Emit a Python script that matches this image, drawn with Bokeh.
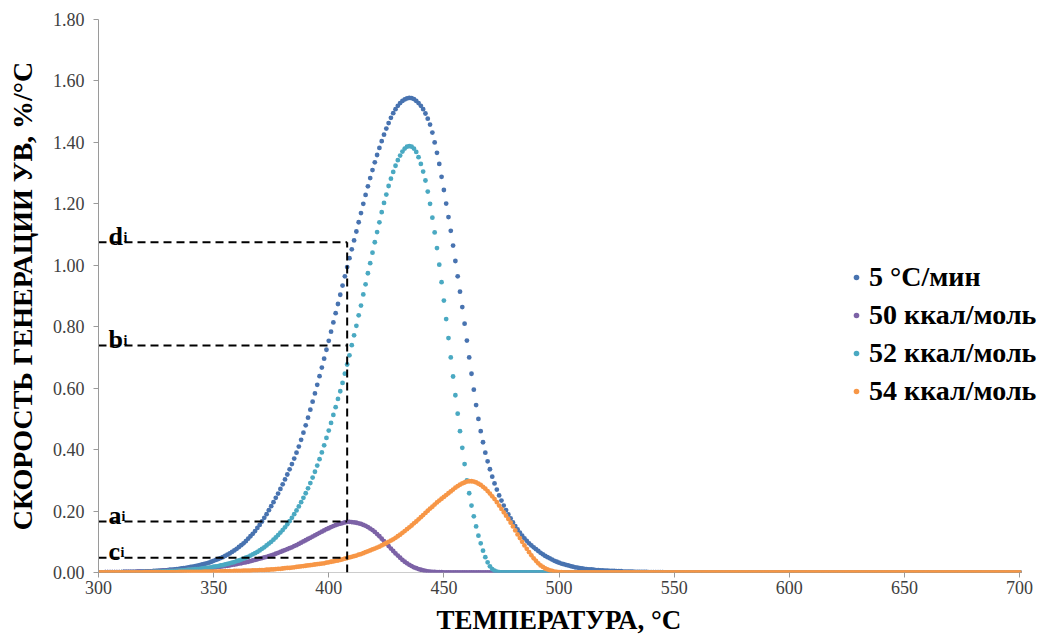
from bokeh.plotting import figure
from bokeh.models import Range1d, FixedTicker, PrintfTickFormatter, Legend, LegendItem, Label
from bokeh.embed import file_html
from bokeh.resources import INLINE

# ---------------- data ----------------
temps = list(range(300, 701))

rate_5c = [
    0, 0, 0, 0.001, 0.001, 0.001, 0.001, 0.001, 0.001, 0.001,  # 300
    0.001, 0.002, 0.002, 0.002, 0.002, 0.002, 0.002, 0.003, 0.003, 0.003,  # 310
    0.003, 0.004, 0.004, 0.004, 0.005, 0.005, 0.006, 0.006, 0.007, 0.007,  # 320
    0.008, 0.009, 0.009, 0.010, 0.011, 0.012, 0.013, 0.014, 0.015, 0.017,  # 330
    0.018, 0.019, 0.021, 0.022, 0.024, 0.026, 0.028, 0.030, 0.032, 0.035,  # 340
    0.038, 0.041, 0.044, 0.047, 0.050, 0.054, 0.058, 0.062, 0.067, 0.072,  # 350
    0.077, 0.083, 0.089, 0.095, 0.102, 0.110, 0.118, 0.126, 0.135, 0.145,  # 360
    0.155, 0.166, 0.178, 0.190, 0.203, 0.216, 0.229, 0.243, 0.257, 0.272,  # 370
    0.287, 0.303, 0.319, 0.336, 0.353, 0.371, 0.390, 0.410, 0.432, 0.455,  # 380
    0.479, 0.504, 0.530, 0.556, 0.583, 0.611, 0.639, 0.667, 0.696, 0.725,  # 390
    0.754, 0.784, 0.814, 0.844, 0.874, 0.904, 0.934, 0.964, 0.994, 1.023,  # 400
    1.052, 1.081, 1.110, 1.140, 1.170, 1.200, 1.229, 1.257, 1.284, 1.310,  # 410
    1.335, 1.359, 1.382, 1.404, 1.425, 1.445, 1.463, 1.480, 1.495, 1.508,  # 420
    1.519, 1.528, 1.535, 1.540, 1.543, 1.545, 1.544, 1.541, 1.535, 1.528,  # 430
    1.519, 1.508, 1.494, 1.477, 1.458, 1.432, 1.400, 1.366, 1.330, 1.288,  # 440
    1.245, 1.201, 1.157, 1.112, 1.064, 1.014, 0.964, 0.914, 0.864, 0.810,  # 450
    0.755, 0.700, 0.647, 0.595, 0.545, 0.500, 0.460, 0.424, 0.390, 0.362,  # 460
    0.336, 0.312, 0.290, 0.270, 0.251, 0.234, 0.218, 0.203, 0.189, 0.176,  # 470
    0.163, 0.151, 0.140, 0.130, 0.120, 0.111, 0.103, 0.095, 0.088, 0.082,  # 480
    0.076, 0.070, 0.064, 0.059, 0.054, 0.050, 0.046, 0.042, 0.038, 0.035,  # 490
    0.032, 0.029, 0.027, 0.025, 0.023, 0.021, 0.019, 0.017, 0.016, 0.014,  # 500
    0.013, 0.012, 0.011, 0.010, 0.010, 0.009, 0.008, 0.008, 0.007, 0.007,  # 510
    0.006, 0.006, 0.005, 0.005, 0.005, 0.004, 0.004, 0.004, 0.003, 0.003,  # 520
    0.003, 0.003, 0.003, 0.002, 0.002, 0.002, 0.002, 0.002, 0.002, 0.001,  # 530
    0.001, 0.001, 0.001, 0.001, 0.001, 0.001, 0, 0, 0, 0,  # 540
    0, 0, 0, 0, 0, 0, 0, 0, 0, 0,  # 550
    0, 0, 0, 0, 0, 0, 0, 0, 0, 0,  # 560
    0, 0, 0, 0, 0, 0, 0, 0, 0, 0,  # 570
    0, 0, 0, 0, 0, 0, 0, 0, 0, 0,  # 580
    0, 0, 0, 0, 0, 0, 0, 0, 0, 0,  # 590
    0, 0, 0, 0, 0, 0, 0, 0, 0, 0,  # 600
    0, 0, 0, 0, 0, 0, 0, 0, 0, 0,  # 610
    0, 0, 0, 0, 0, 0, 0, 0, 0, 0,  # 620
    0, 0, 0, 0, 0, 0, 0, 0, 0, 0,  # 630
    0, 0, 0, 0, 0, 0, 0, 0, 0, 0,  # 640
    0, 0, 0, 0, 0, 0, 0, 0, 0, 0,  # 650
    0, 0, 0, 0, 0, 0, 0, 0, 0, 0,  # 660
    0, 0, 0, 0, 0, 0, 0, 0, 0, 0,  # 670
    0, 0, 0, 0, 0, 0, 0, 0, 0, 0,  # 680
    0, 0, 0, 0, 0, 0, 0, 0, 0, 0,  # 690
    0,  # 700
]

rate_50 = [
    0, 0, 0, 0.001, 0.001, 0.001, 0.001, 0.001, 0.001, 0.001,  # 300
    0.001, 0.002, 0.002, 0.002, 0.002, 0.002, 0.002, 0.003, 0.003, 0.003,  # 310
    0.003, 0.003, 0.003, 0.004, 0.004, 0.004, 0.004, 0.005, 0.005, 0.005,  # 320
    0.005, 0.006, 0.006, 0.006, 0.007, 0.007, 0.007, 0.008, 0.008, 0.009,  # 330
    0.009, 0.010, 0.010, 0.011, 0.011, 0.012, 0.013, 0.013, 0.014, 0.015,  # 340
    0.016, 0.017, 0.018, 0.019, 0.020, 0.021, 0.022, 0.023, 0.025, 0.026,  # 350
    0.027, 0.029, 0.030, 0.032, 0.033, 0.035, 0.037, 0.039, 0.041, 0.043,  # 360
    0.045, 0.047, 0.049, 0.051, 0.053, 0.056, 0.058, 0.061, 0.064, 0.067,  # 370
    0.070, 0.073, 0.076, 0.079, 0.082, 0.086, 0.089, 0.093, 0.097, 0.101,  # 380
    0.105, 0.109, 0.113, 0.117, 0.121, 0.125, 0.129, 0.133, 0.137, 0.141,  # 390
    0.144, 0.148, 0.151, 0.154, 0.157, 0.159, 0.161, 0.163, 0.165, 0.165,  # 400
    0.164, 0.163, 0.162, 0.160, 0.158, 0.155, 0.152, 0.148, 0.143, 0.138,  # 410
    0.132, 0.125, 0.118, 0.110, 0.102, 0.094, 0.086, 0.078, 0.070, 0.062,  # 420
    0.055, 0.048, 0.041, 0.035, 0.030, 0.025, 0.021, 0.017, 0.014, 0.011,  # 430
    0.009, 0.007, 0.005, 0.004, 0.003, 0.002, 0.002, 0.001, 0.001, 0.001,  # 440
    0, 0, 0, 0, 0, 0, 0, 0, 0, 0,  # 450
    0, 0, 0, 0, 0, 0, 0, 0, 0, 0,  # 460
    0, 0, 0, 0, 0, 0, 0, 0, 0, 0,  # 470
    0, 0, 0, 0, 0, 0, 0, 0, 0, 0,  # 480
    0, 0, 0, 0, 0, 0, 0, 0, 0, 0,  # 490
    0, 0, 0, 0, 0, 0, 0, 0, 0, 0,  # 500
    0, 0, 0, 0, 0, 0, 0, 0, 0, 0,  # 510
    0, 0, 0, 0, 0, 0, 0, 0, 0, 0,  # 520
    0, 0, 0, 0, 0, 0, 0, 0, 0, 0,  # 530
    0, 0, 0, 0, 0, 0, 0, 0, 0, 0,  # 540
    0, 0, 0, 0, 0, 0, 0, 0, 0, 0,  # 550
    0, 0, 0, 0, 0, 0, 0, 0, 0, 0,  # 560
    0, 0, 0, 0, 0, 0, 0, 0, 0, 0,  # 570
    0, 0, 0, 0, 0, 0, 0, 0, 0, 0,  # 580
    0, 0, 0, 0, 0, 0, 0, 0, 0, 0,  # 590
    0, 0, 0, 0, 0, 0, 0, 0, 0, 0,  # 600
    0, 0, 0, 0, 0, 0, 0, 0, 0, 0,  # 610
    0, 0, 0, 0, 0, 0, 0, 0, 0, 0,  # 620
    0, 0, 0, 0, 0, 0, 0, 0, 0, 0,  # 630
    0, 0, 0, 0, 0, 0, 0, 0, 0, 0,  # 640
    0, 0, 0, 0, 0, 0, 0, 0, 0, 0,  # 650
    0, 0, 0, 0, 0, 0, 0, 0, 0, 0,  # 660
    0, 0, 0, 0, 0, 0, 0, 0, 0, 0,  # 670
    0, 0, 0, 0, 0, 0, 0, 0, 0, 0,  # 680
    0, 0, 0, 0, 0, 0, 0, 0, 0, 0,  # 690
    0,  # 700
]

rate_52 = [
    0, 0, 0, 0, 0, 0, 0, 0, 0, 0,  # 300
    0.001, 0.001, 0.001, 0.001, 0.001, 0.001, 0.001, 0.001, 0.001, 0.002,  # 310
    0.002, 0.002, 0.002, 0.002, 0.003, 0.003, 0.003, 0.003, 0.004, 0.004,  # 320
    0.004, 0.005, 0.005, 0.005, 0.006, 0.006, 0.007, 0.007, 0.008, 0.009,  # 330
    0.009, 0.010, 0.011, 0.011, 0.012, 0.013, 0.014, 0.015, 0.016, 0.017,  # 340
    0.019, 0.020, 0.021, 0.023, 0.024, 0.026, 0.028, 0.030, 0.032, 0.034,  # 350
    0.037, 0.039, 0.042, 0.045, 0.048, 0.051, 0.055, 0.059, 0.063, 0.067,  # 360
    0.072, 0.077, 0.082, 0.088, 0.094, 0.100, 0.107, 0.114, 0.122, 0.130,  # 370
    0.138, 0.147, 0.157, 0.167, 0.178, 0.190, 0.202, 0.215, 0.229, 0.243,  # 380
    0.258, 0.274, 0.291, 0.309, 0.328, 0.348, 0.369, 0.391, 0.414, 0.438,  # 390
    0.462, 0.487, 0.513, 0.538, 0.565, 0.590, 0.617, 0.647, 0.677, 0.707,  # 400
    0.740, 0.772, 0.803, 0.837, 0.869, 0.905, 0.938, 0.974, 1.007, 1.041,  # 410
    1.075, 1.108, 1.140, 1.173, 1.203, 1.230, 1.258, 1.282, 1.304, 1.324,  # 420
    1.342, 1.357, 1.370, 1.380, 1.386, 1.388, 1.386, 1.380, 1.369, 1.352,  # 430
    1.330, 1.305, 1.276, 1.240, 1.200, 1.155, 1.107, 1.056, 1.002, 0.945,  # 440
    0.885, 0.825, 0.763, 0.700, 0.638, 0.577, 0.517, 0.460, 0.406, 0.353,  # 450
    0.300, 0.258, 0.218, 0.183, 0.150, 0.120, 0.095, 0.071, 0.050, 0.033,  # 460
    0.020, 0.011, 0.006, 0.003, 0.001, 0, 0, 0, 0, 0,  # 470
    0, 0, 0, 0, 0, 0, 0, 0, 0, 0,  # 480
    0, 0, 0, 0, 0, 0, 0, 0, 0, 0,  # 490
    0, 0, 0, 0, 0, 0, 0, 0, 0, 0,  # 500
    0, 0, 0, 0, 0, 0, 0, 0, 0, 0,  # 510
    0, 0, 0, 0, 0, 0, 0, 0, 0, 0,  # 520
    0, 0, 0, 0, 0, 0, 0, 0, 0, 0,  # 530
    0, 0, 0, 0, 0, 0, 0, 0, 0, 0,  # 540
    0, 0, 0, 0, 0, 0, 0, 0, 0, 0,  # 550
    0, 0, 0, 0, 0, 0, 0, 0, 0, 0,  # 560
    0, 0, 0, 0, 0, 0, 0, 0, 0, 0,  # 570
    0, 0, 0, 0, 0, 0, 0, 0, 0, 0,  # 580
    0, 0, 0, 0, 0, 0, 0, 0, 0, 0,  # 590
    0, 0, 0, 0, 0, 0, 0, 0, 0, 0,  # 600
    0, 0, 0, 0, 0, 0, 0, 0, 0, 0,  # 610
    0, 0, 0, 0, 0, 0, 0, 0, 0, 0,  # 620
    0, 0, 0, 0, 0, 0, 0, 0, 0, 0,  # 630
    0, 0, 0, 0, 0, 0, 0, 0, 0, 0,  # 640
    0, 0, 0, 0, 0, 0, 0, 0, 0, 0,  # 650
    0, 0, 0, 0, 0, 0, 0, 0, 0, 0,  # 660
    0, 0, 0, 0, 0, 0, 0, 0, 0, 0,  # 670
    0, 0, 0, 0, 0, 0, 0, 0, 0, 0,  # 680
    0, 0, 0, 0, 0, 0, 0, 0, 0, 0,  # 690
    0,  # 700
]

rate_54 = [
    0, 0, 0, 0, 0, 0, 0, 0, 0, 0,  # 300
    0, 0, 0, 0, 0, 0, 0, 0, 0, 0,  # 310
    0.001, 0.001, 0.001, 0.001, 0.001, 0.001, 0.001, 0.001, 0.001, 0.001,  # 320
    0.001, 0.001, 0.001, 0.001, 0.001, 0.002, 0.002, 0.002, 0.002, 0.002,  # 330
    0.002, 0.002, 0.002, 0.002, 0.002, 0.002, 0.003, 0.003, 0.003, 0.003,  # 340
    0.003, 0.003, 0.003, 0.004, 0.004, 0.004, 0.004, 0.004, 0.004, 0.005,  # 350
    0.005, 0.005, 0.005, 0.006, 0.006, 0.006, 0.006, 0.007, 0.007, 0.007,  # 360
    0.008, 0.008, 0.008, 0.009, 0.009, 0.010, 0.010, 0.011, 0.012, 0.012,  # 370
    0.013, 0.014, 0.015, 0.015, 0.016, 0.017, 0.018, 0.019, 0.020, 0.021,  # 380
    0.022, 0.023, 0.024, 0.025, 0.026, 0.027, 0.028, 0.029, 0.030, 0.032,  # 390
    0.033, 0.035, 0.036, 0.038, 0.039, 0.041, 0.043, 0.045, 0.047, 0.049,  # 400
    0.051, 0.053, 0.055, 0.058, 0.060, 0.063, 0.066, 0.069, 0.072, 0.075,  # 410
    0.078, 0.081, 0.084, 0.088, 0.092, 0.096, 0.100, 0.104, 0.108, 0.113,  # 420
    0.118, 0.123, 0.129, 0.135, 0.141, 0.147, 0.153, 0.160, 0.166, 0.173,  # 430
    0.180, 0.187, 0.194, 0.201, 0.208, 0.214, 0.221, 0.228, 0.234, 0.240,  # 440
    0.246, 0.252, 0.258, 0.264, 0.270, 0.276, 0.281, 0.286, 0.290, 0.293,  # 450
    0.296, 0.297, 0.297, 0.296, 0.293, 0.289, 0.285, 0.279, 0.273, 0.265,  # 460
    0.257, 0.248, 0.239, 0.229, 0.218, 0.207, 0.196, 0.185, 0.174, 0.162,  # 470
    0.150, 0.137, 0.124, 0.112, 0.100, 0.088, 0.077, 0.066, 0.056, 0.046,  # 480
    0.038, 0.030, 0.023, 0.018, 0.013, 0.010, 0.007, 0.005, 0.003, 0.002,  # 490
    0.001, 0.001, 0, 0, 0, 0, 0, 0, 0, 0,  # 500
    0, 0, 0, 0, 0, 0, 0, 0, 0, 0,  # 510
    0, 0, 0, 0, 0, 0, 0, 0, 0, 0,  # 520
    0, 0, 0, 0, 0, 0, 0, 0, 0, 0,  # 530
    0, 0, 0, 0, 0, 0, 0, 0, 0, 0,  # 540
    0, 0, 0, 0, 0, 0, 0, 0, 0, 0,  # 550
    0, 0, 0, 0, 0, 0, 0, 0, 0, 0,  # 560
    0, 0, 0, 0, 0, 0, 0, 0, 0, 0,  # 570
    0, 0, 0, 0, 0, 0, 0, 0, 0, 0,  # 580
    0, 0, 0, 0, 0, 0, 0, 0, 0, 0,  # 590
    0, 0, 0, 0, 0, 0, 0, 0, 0, 0,  # 600
    0, 0, 0, 0, 0, 0, 0, 0, 0, 0,  # 610
    0, 0, 0, 0, 0, 0, 0, 0, 0, 0,  # 620
    0, 0, 0, 0, 0, 0, 0, 0, 0, 0,  # 630
    0, 0, 0, 0, 0, 0, 0, 0, 0, 0,  # 640
    0, 0, 0, 0, 0, 0, 0, 0, 0, 0,  # 650
    0, 0, 0, 0, 0, 0, 0, 0, 0, 0,  # 660
    0, 0, 0, 0, 0, 0, 0, 0, 0, 0,  # 670
    0, 0, 0, 0, 0, 0, 0, 0, 0, 0,  # 680
    0, 0, 0, 0, 0, 0, 0, 0, 0, 0,  # 690
    0,  # 700
]

series_names = ["5 °C/мин", "50 ккал/моль", "52 ккал/моль", "54 ккал/моль"]
series_values = [rate_5c, rate_50, rate_52, rate_54]
series_colors = ["#4873b0", "#7c62a6", "#4aa9c2", "#f79646"]

x_ticks = [300, 350, 400, 450, 500, 550, 600, 650, 700]
y_ticks = [0.0, 0.2, 0.4, 0.6, 0.8, 1.0, 1.2, 1.4, 1.6, 1.8]

ref_temp = 408
ref_levels = [1.075, 0.739, 0.166, 0.048]
ref_letters = ["d", "b", "a", "c"]
ref_letter_widths = [15, 15, 13, 12]

x_title = "ТЕМПЕРАТУРА, °C"
y_title = "СКОРОСТЬ ГЕНЕРАЦИИ УВ, %/°C"

SERIF = "Liberation Serif"
TICK_FONT = "Times New Roman"
AXIS_GREY = "#9a9a9a"

# ---------------- figure ----------------
# frame runs from x=98 px to the right edge; 300..700 occupies 921 px of it,
# leaving room on the right for the legend text
frame_w = 1039 - 98
span_px = 921
x_end = x_ticks[0] + (x_ticks[-1] - x_ticks[0]) * frame_w / span_px

p = figure(
    width=1039, height=644,
    x_range=Range1d(x_ticks[0], x_end),
    y_range=Range1d(y_ticks[0], y_ticks[-1]),
    output_backend="svg", toolbar_location=None,
    min_border_left=98, min_border_right=0,
    min_border_top=19, min_border_bottom=72,
    background_fill_color="white", border_fill_color="white",
)
p.outline_line_color = None
p.xgrid.visible = False
p.ygrid.visible = False

# x-axis baseline only across the data range
p.segment(x0=[x_ticks[0]], y0=[y_ticks[0]], x1=[x_ticks[-1]], y1=[y_ticks[0]],
          line_color=AXIS_GREY, line_width=1)

renderers = []
for vals, col in zip(series_values, series_colors):
    r = p.scatter(temps[:len(vals)], vals, size=4.8, marker="circle",
                  fill_color=col, line_color=None)
    renderers.append(r)

# dashed reference lines
n = len(ref_levels)
p.segment(x0=[x_ticks[0]] * n, y0=ref_levels, x1=[ref_temp] * n, y1=ref_levels,
          line_color="black", line_width=2, line_dash="8 5")
p.segment(x0=[ref_temp], y0=[y_ticks[0]], x1=[ref_temp], y1=[max(ref_levels)],
          line_color="black", line_width=2, line_dash="8 5")

for lvl, letter, w in zip(ref_levels, ref_letters, ref_letter_widths):
    p.add_layout(Label(x=x_ticks[0], y=lvl, x_offset=10, y_offset=6, text=letter,
                       text_font=SERIF, text_font_style="bold", text_font_size="26px",
                       text_color="black", text_baseline="alphabetic"))
    p.add_layout(Label(x=x_ticks[0], y=lvl, x_offset=10 + w, y_offset=5, text="i",
                       text_font=SERIF, text_font_style="bold", text_font_size="14px",
                       text_color="black", text_baseline="alphabetic"))

# axes
for ax in (p.xaxis[0], p.yaxis[0]):
    ax.axis_line_color = AXIS_GREY
    ax.axis_line_width = 1
    ax.major_tick_line_color = AXIS_GREY
    ax.major_tick_out = 5
    ax.major_tick_in = 0
    ax.minor_tick_line_color = None
    ax.major_label_text_font = TICK_FONT
    ax.major_label_text_font_style = "normal"
    ax.major_label_text_font_size = "18px"
    ax.major_label_text_color = "#404040"
    ax.axis_label_text_font = SERIF
    ax.axis_label_text_font_style = "bold"
    ax.axis_label_text_color = "black"

p.xaxis.axis_line_color = None
p.xaxis.axis_label_text_font_size = "27px"
p.yaxis.axis_label_text_font_size = "28px"
p.xaxis.ticker = FixedTicker(ticks=x_ticks)
p.yaxis.ticker = FixedTicker(ticks=y_ticks)
p.yaxis.formatter = PrintfTickFormatter(format="%.2f")
p.xaxis.major_label_standoff = 3
p.yaxis.major_label_standoff = 9
# trailing no-break spaces keep the title centred under 300..700 rather than the wider frame
p.xaxis.axis_label = x_title + "\u00a0\u00a0\u00a0"
p.yaxis.axis_label = y_title
p.xaxis.axis_label_standoff = 8
p.yaxis.axis_label_standoff = 12

legend = Legend(
    items=[LegendItem(label=nm, renderers=[r]) for nm, r in zip(series_names, renderers)],
    location=(751, 165),
    label_text_font=SERIF, label_text_font_style="bold", label_text_font_size="28px",
    label_text_color="black",
    glyph_width=14, glyph_height=20, label_standoff=6, spacing=6,
    padding=0, margin=0, border_line_color=None, background_fill_alpha=0,
)
p.add_layout(legend)

open("out.html", "w").write(file_html(p, INLINE))
